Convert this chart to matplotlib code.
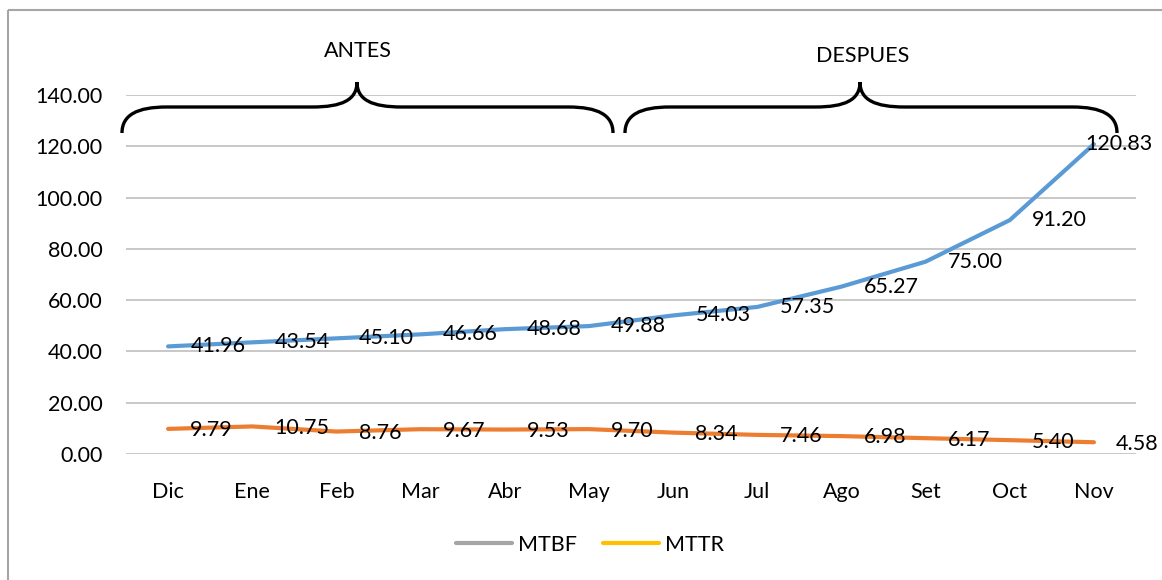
import matplotlib.pyplot as plt
import matplotlib.patches as mpatches
from matplotlib.path import Path
from matplotlib.transforms import Affine2D
from matplotlib.lines import Line2D

months = ["Dic", "Ene", "Feb", "Mar", "Abr", "May", "Jun", "Jul", "Ago", "Set", "Oct", "Nov"]
mtbf = [41.96, 43.54, 45.10, 46.66, 48.68, 49.88, 54.03, 57.35, 65.27, 75.00, 91.20, 120.83]
mttr = [9.79, 10.75, 8.76, 9.67, 9.53, 9.70, 8.34, 7.46, 6.98, 6.17, 5.40, 4.58]
yticks = [0, 20, 40, 60, 80, 100, 120, 140]

W, H = 1162, 580
plt.rcParams['font.family'] = ['Lato', 'DejaVu Sans']
fig = plt.figure(figsize=(W / 100, H / 100), dpi=100)
ax = fig.add_axes([126 / W, 1 - 454 / H, (1136 - 126) / W, (454 - 95) / H])

x = list(range(len(months)))
ax.plot(x, mtbf, color="#5B9BD5", lw=3, solid_capstyle="round", zorder=3)
ax.plot(x, mttr, color="#ED7D31", lw=3, solid_capstyle="round", zorder=3)

fs = 15.5
for i in x:
    dx = 16 if i < len(x) - 1 else -6
    ax.annotate(f"{mtbf[i]:.2f}", (i, mtbf[i]), xytext=(dx, 0), textcoords="offset points",
                ha="left", va="center", fontsize=fs, color="black", zorder=4)
    ax.annotate(f"{mttr[i]:.2f}", (i, mttr[i]), xytext=(16, -1), textcoords="offset points",
                ha="left", va="center", fontsize=fs, color="black", zorder=4)

ax.set_xlim(-0.5, len(months) - 0.5)
ax.set_ylim(0, 140)
ax.set_xticks(x)
ax.set_xticklabels(months, fontsize=fs)
ax.set_yticks(yticks)
ax.set_yticklabels([f"{v:.2f}" for v in yticks], fontsize=fs)
ax.tick_params(axis="x", length=0, pad=20)
ax.tick_params(axis="y", length=0, pad=17)
ax.grid(axis="y", color="#BFBFBF", lw=1.2)
ax.set_axisbelow(True)
for s in ax.spines.values():
    s.set_visible(False)

# pixel coordinates measured from the top-left corner
px = Affine2D().scale(1 / W, -1 / H).translate(0, 1) + fig.transFigure


def brace(x0, xm, x1, y_tip=133, y_mid=107, y_top=82, r=45):
    verts = [(x0, y_tip),
             (x0, y_mid + 8), (x0 + 15, y_mid), (x0 + r, y_mid),
             (xm - r, y_mid),
             (xm - 15, y_mid), (xm, y_mid - 7), (xm, y_top),
             (xm, y_mid - 7), (xm + 15, y_mid), (xm + r, y_mid),
             (x1 - r, y_mid),
             (x1 - 15, y_mid), (x1, y_mid + 8), (x1, y_tip)]
    codes = [Path.MOVETO,
             Path.CURVE4, Path.CURVE4, Path.CURVE4,
             Path.LINETO,
             Path.CURVE4, Path.CURVE4, Path.CURVE4,
             Path.CURVE4, Path.CURVE4, Path.CURVE4,
             Path.LINETO,
             Path.CURVE4, Path.CURVE4, Path.CURVE4]
    fig.add_artist(mpatches.PathPatch(Path(verts, codes), transform=px, fill=False,
                                      lw=2.4, edgecolor="black", capstyle="butt"))


brace(122, 357, 613)
brace(625, 860, 1117)
fig.text(358, 51, "ANTES", transform=px, ha="center", va="center", fontsize=fs)
fig.text(863, 56, "DESPUES", transform=px, ha="center", va="center", fontsize=fs)

# chart border
fig.add_artist(mpatches.Rectangle((8, 10), W + 20, H + 20, transform=px, fill=False,
                                  edgecolor="#A6A6A6", lw=1.5))

handles = [Line2D([], [], color="#A5A5A5", lw=3, solid_capstyle="round"),
           Line2D([], [], color="#FFC000", lw=3, solid_capstyle="round")]
fig.legend(handles, ["MTBF", "MTTR"], loc="center", bbox_to_anchor=(590 / W, 1 - 545 / H),
           ncol=2, frameon=False, fontsize=fs, handlelength=2.6, handletextpad=0.3,
           columnspacing=1.2)

fig.savefig("out.png", dpi=100)
